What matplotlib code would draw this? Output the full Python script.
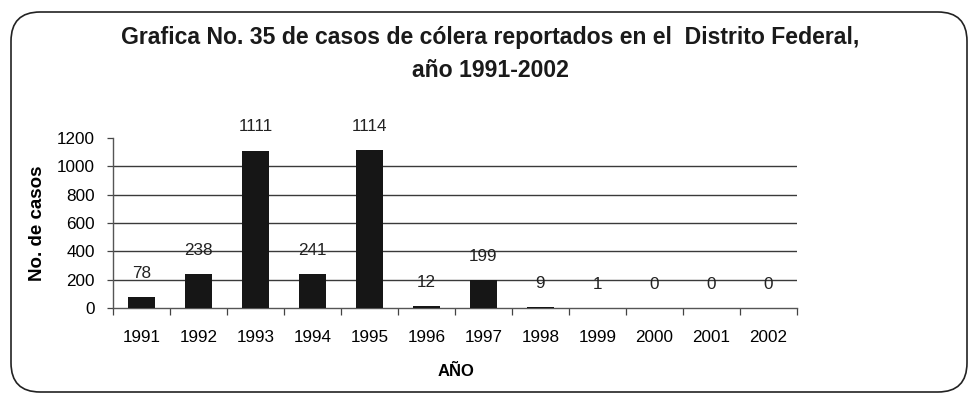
import matplotlib
matplotlib.use("Agg")
import matplotlib.pyplot as plt
from matplotlib.patches import FancyBboxPatch
import numpy as np

plt.rcParams['font.family'] = ['Liberation Sans', 'DejaVu Sans']

years = ["1991", "1992", "1993", "1994", "1995", "1996",
         "1997", "1998", "1999", "2000", "2001", "2002"]
cases = [78, 238, 1111, 241, 1114, 12, 199, 9, 1, 0, 0, 0]
y_ticks = [0, 200, 400, 600, 800, 1000, 1200]

title = "Grafica No. 35 de casos de cólera reportados en el  Distrito Federal,\naño 1991-2002"

fig = plt.figure(figsize=(9.7, 3.95), dpi=100)
ax = fig.add_axes([113 / 970, 1 - 308 / 395, (797 - 113) / 970, (308 - 138) / 395])

x = np.arange(len(years))
ax.bar(x, cases, width=0.46, color="#161616", zorder=3)

for xi, v in zip(x, cases):
    ax.annotate(str(v), (xi, v), xytext=(0, 17), textcoords="offset points",
                ha="center", va="center", fontsize=12.3, color="#222222", zorder=4)

ax.set_xlim(-0.5, len(years) - 0.5)
ax.set_ylim(0, 1200)
ax.set_yticks(y_ticks)
ax.set_yticklabels([str(t) for t in y_ticks], fontsize=12.3)
ax.set_xticks(x)
ax.set_xticklabels(years, fontsize=12.3)
ax.set_xticks(np.arange(-0.5, len(years)), minor=True)
ax.tick_params(axis="x", which="major", length=0, pad=16)
ax.tick_params(axis="x", which="minor", length=5, width=0.9, color="#444444")
ax.tick_params(axis="y", length=4, width=0.9, color="#444444", pad=9)

for t in y_ticks[1:-1]:
    ax.axhline(t, color="#3a3a3a", lw=1.0, zorder=1)

for side in ("top", "right"):
    ax.spines[side].set_visible(False)
for side in ("left", "bottom"):
    ax.spines[side].set_color("#555555")
    ax.spines[side].set_linewidth(1.0)

ax.set_ylabel("No. de casos", fontsize=13.5, fontweight="bold")
ax.yaxis.set_label_coords((38 - 113) / 684, 0.5)
ax.set_xlabel("AÑO", fontsize=12, fontweight="bold")
ax.xaxis.set_label_coords((456 - 113) / 684, -(372 - 308) / 170)
ax.xaxis.label.set_va("center")
ax.yaxis.label.set_va("center")

fig.text(490 / 970, 1 - 54 / 395, title, ha="center", va="center",
         fontsize=16.6, fontweight="bold", color="#1a1a1a", linespacing=1.6)

frame = FancyBboxPatch((11 / 970, 3 / 395), 956 / 970, 380 / 395,
                       boxstyle="round,pad=0,rounding_size=0.03",
                       transform=fig.transFigure, fill=False,
                       edgecolor="#222222", lw=1.2, mutation_aspect=970 / 395)
fig.patches.append(frame)

fig.savefig("out.png", dpi=100)
